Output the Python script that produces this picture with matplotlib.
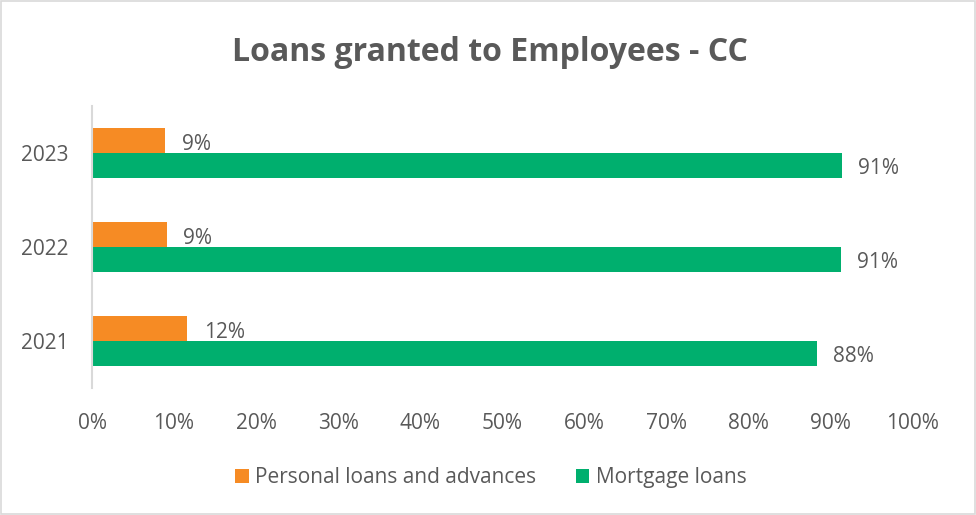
import numpy as np
import matplotlib.pyplot as plt
from matplotlib.patches import Rectangle

plt.rcParams['font.family'] = ['Open Sans', 'DejaVu Sans']

# data
years = ['2021', '2022', '2023']
personal = [11.6, 9.1, 8.9]
mortgage = [88.4, 91.3, 91.4]
personal_labels = ['12%', '9%', '9%']
mortgage_labels = ['88%', '91%', '91%']

orange = '#F68B24'
green = '#00AF6E'
grey_txt = '#595959'

fig = plt.figure(figsize=(9.76, 5.15), dpi=100)
ax = fig.add_axes([0.0943, 0.2466, 0.8402, 0.5476])

y = np.arange(len(years))
h = 0.266
ax.barh(y + h / 2, personal, height=h, color=orange, label='Personal loans and advances')
ax.barh(y - h / 2, mortgage, height=h, color=green, label='Mortgage loans')

# value labels to the right of each bar
for yi, v, t in zip(y, personal, personal_labels):
    ax.annotate(t, (v, yi + h / 2), xytext=(12, -3), textcoords='offset points',
                va='center', ha='left', fontsize=15, color=grey_txt)
for yi, v, t in zip(y, mortgage, mortgage_labels):
    ax.annotate(t, (v, yi - h / 2), xytext=(11.5, -2), textcoords='offset points',
                va='center', ha='left', fontsize=15, color=grey_txt)

ax.set_xlim(0, 100)
ax.set_ylim(-0.5, 2.5)
ax.set_xticks(np.arange(0, 101, 10))
ax.set_xticklabels([f'{v}%' for v in range(0, 101, 10)])
ax.set_yticks(y)
ax.set_yticklabels(years)
ax.tick_params(axis='both', length=0, labelsize=15, labelcolor=grey_txt)
ax.tick_params(axis='x', pad=18)
ax.tick_params(axis='y', pad=17)

for s in ['top', 'right', 'bottom']:
    ax.spines[s].set_visible(False)
ax.spines['left'].set_color('#d9d9d9')
ax.spines['left'].set_linewidth(1.5)

fig.text(0.502, 0.898, 'Loans granted to Employees - CC', ha='center', va='center',
         fontsize=23, fontweight='bold', color=grey_txt)

fig.legend(loc='center', bbox_to_anchor=(0.503, 0.072), ncol=2, frameon=False,
           fontsize=15, labelcolor=grey_txt, handlelength=0.65, handleheight=0.65,
           handletextpad=0.3, columnspacing=1.9)

# chart border
fig.patches.append(Rectangle((0.001, 0.001), 0.998, 0.997, transform=fig.transFigure,
                             fill=False, edgecolor='#d9d9d9', linewidth=1.2))

fig.savefig('out.png', dpi=100)
